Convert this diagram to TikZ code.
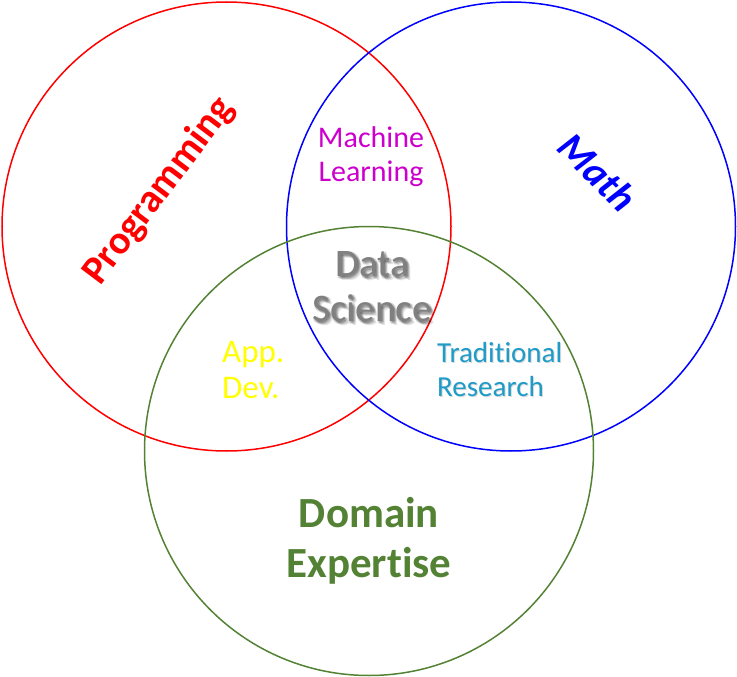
\documentclass[tikz,border=0pt]{standalone}
\usepackage{fontspec}
\setmainfont[Ligatures=NoCommon]{Carlito}
\usepackage{tikz}
\usepackage{xcolor}

\begin{document}
\begin{tikzpicture}[x=1pt,y=1pt,yscale=-1,xscale=1]
\useasboundingbox (0,0) rectangle (737,677);
%Shape: Circle [id:programming]
\draw [color={rgb, 255:red, 255; green, 0; blue, 0 }, line width=1.5] (226.5,226.5) circle (224.5);
%Shape: Circle [id:math]
\draw [color={rgb, 255:red, 0; green, 0; blue, 255 }, line width=1.5] (511,226.5) circle (224.5);
%Shape: Circle [id:domain]
\draw [color={rgb, 255:red, 84; green, 130; blue, 53 }, line width=1.5] (369,451) circle (224.5);

% Text Node
\node (prog) at (159,191) [rotate=53, inner sep=0pt, color={rgb, 255:red, 255; green, 0; blue, 0 }, font=\fontsize{40}{48}\selectfont\bfseries] {Programming};
% Text Node
\node (math) at (598,172) [rotate=-45, inner sep=0pt, color={rgb, 255:red, 0; green, 0; blue, 255 }, font=\fontsize{40}{48}\selectfont\bfseries\itshape] {Math};
% Text Node
\node (ml) at (371,157) [inner sep=0pt, align=center, color={rgb, 255:red, 204; green, 0; blue, 204 }, font=\fontsize{30}{34}\selectfont] {Machine\\Learning};
% Text Node (shadow)
\foreach \dx/\dy in {1/1,2/2,3/3,1/3,3/1,4/4,0/2,2/0}
  \node at (372+\dx,287+\dy) [inner sep=0pt, align=center, color=black, opacity=0.1, font=\fontsize{39}{45}\selectfont] {Data\\Science};
\node (ds) at (372,287) [inner sep=0pt, align=center, color={rgb, 255:red, 128; green, 128; blue, 128 }, font=\fontsize{39}{45}\selectfont] {Data\\Science};
% Text Node
\node (app) at (222,370) [anchor=west, inner sep=0pt, align=left, color={rgb, 255:red, 255; green, 255; blue, 0 }, font=\fontsize{33}{36}\selectfont] {App.\\Dev.};
% Text Node
\node at (438,371) [anchor=west, inner sep=0pt, align=left, color=black, opacity=0.15, font=\fontsize{29}{34}\selectfont] {Traditional\\Research};
\node (trad) at (437,370) [anchor=west, inner sep=0pt, align=left, color={rgb, 255:red, 31; green, 155; blue, 200 }, font=\fontsize{29}{34}\selectfont] {Traditional\\Research};
% Text Node
\node (dom) at (369,541) [inner sep=0pt, align=center, color={rgb, 255:red, 84; green, 130; blue, 53 }, font=\fontsize{43}{50}\selectfont\bfseries] {Domain\\Expertise};
\end{tikzpicture}
\end{document}
